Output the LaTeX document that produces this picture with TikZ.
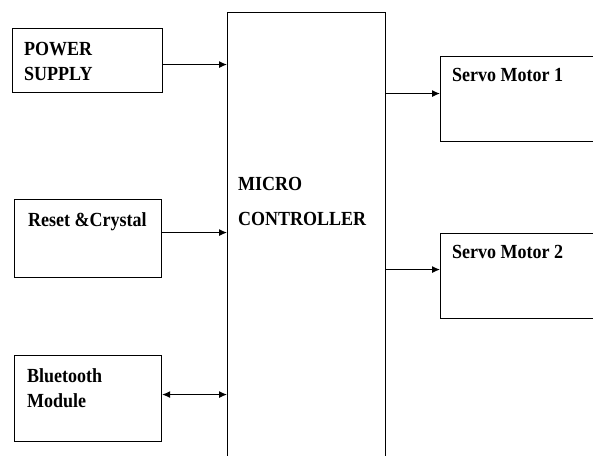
\documentclass[tikz,border=0pt]{standalone}
\usepackage{fontspec}
\setmainfont[FakeStretch=0.9]{Liberation Serif}
\usetikzlibrary{arrows.meta}
\tikzset{ blk/.style = {rectangle, draw, line width=1.1pt, anchor=north west, inner sep=0pt} }
\tikzset{ lbl/.style = {inner sep=0pt, anchor=north west, align=left, font=\fontsize{20}{25}\selectfont\bfseries} }
\tikzset{ arr/.style = {line width=1.1pt, >={Latex[length=8pt,width=7pt]}} }

\begin{document}
\begin{tikzpicture}[x=1pt,y=-1pt]
        \useasboundingbox (0,0) rectangle (593,455);
        \clip (0,0) rectangle (593,455);
        \node[blk, minimum width=150pt, minimum height=64pt] (ps) at (12,28) {};
        \node[blk, minimum width=147pt, minimum height=78pt] (rc) at (14,199) {};
        \node[blk, minimum width=147pt, minimum height=86pt] (bt) at (14,355) {};
        \node[blk, minimum width=158pt, minimum height=460pt] (mc) at (227,12) {};
        \node[blk, minimum width=170pt, minimum height=85pt] (s1) at (440,56) {};
        \node[blk, minimum width=170pt, minimum height=85pt] (s2) at (440,233) {};
        \node[lbl] (pst) at ([xshift=12pt,yshift=-14pt]ps.north west) {POWER\\SUPPLY};
        \node[lbl] (rct) at ([xshift=14pt,yshift=-13pt]rc.north west) {Reset \&Crystal};
        \node[lbl] (btt) at ([xshift=13pt,yshift=-13pt]bt.north west) {Bluetooth\\Module};
        \node[lbl] (mct) at ([xshift=11pt,yshift=-165pt]mc.north west) {MICRO\\[10pt]CONTROLLER};
        \node[lbl] (s1t) at ([xshift=12pt,yshift=-12pt]s1.north west) {Servo Motor 1};
        \node[lbl] (s2t) at ([xshift=12pt,yshift=-12pt]s2.north west) {Servo Motor 2};
        \draw[arr,->] ([yshift=-4pt]ps.east) -- ([yshift=-4pt]ps.east -| mc.west);
        \draw[arr,->] ([yshift=6pt]rc.east) -- ([yshift=6pt]rc.east -| mc.west);
        \draw[arr,<->] ([yshift=4pt]bt.east) -- ([yshift=4pt]bt.east -| mc.west);
        \draw[arr,->] ([yshift=5.5pt]s1.west -| mc.east) -- ([yshift=5.5pt]s1.west);
        \draw[arr,->] ([yshift=6.5pt]s2.west -| mc.east) -- ([yshift=6.5pt]s2.west);
    \end{tikzpicture}
\end{document}
